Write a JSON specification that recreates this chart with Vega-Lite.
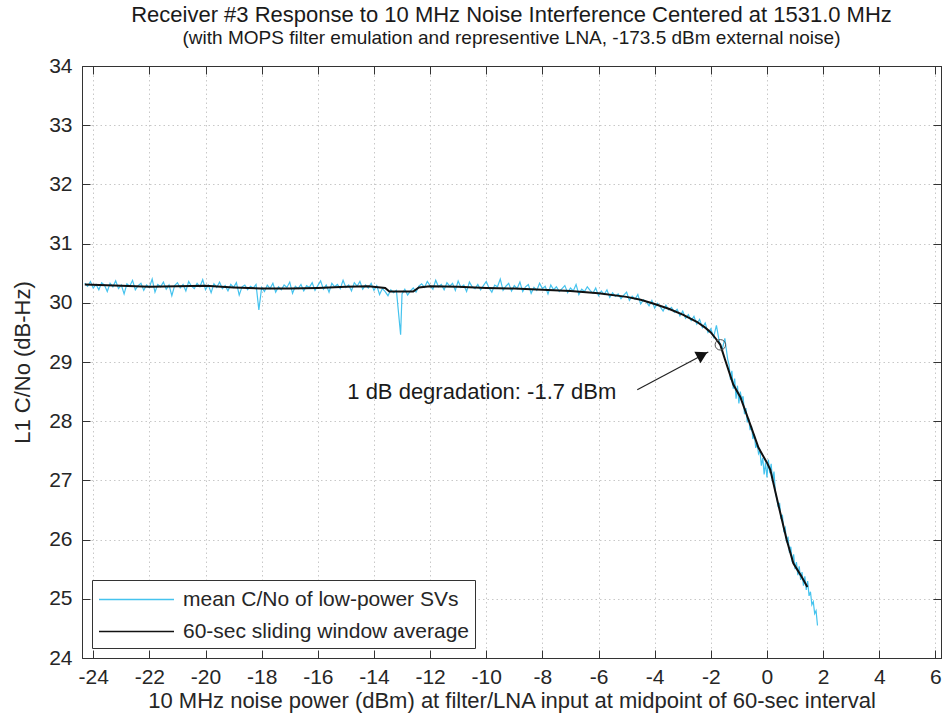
{
  "$schema": "https://vega.github.io/schema/vega-lite/v6.json",
  "width": 859,
  "height": 592,
  "autosize": {"type": "none"},
  "padding": {"left": 82, "top": 66, "right": 2, "bottom": 61},
  "background": "white",
  "title": {
    "text": "Receiver #3 Response to 10 MHz Noise Interference Centered at 1531.0 MHz",
    "subtitle": "(with MOPS filter emulation and representive LNA, -173.5 dBm external noise)",
    "anchor": "middle",
    "font": "Liberation Sans",
    "fontSize": 22,
    "fontWeight": "normal",
    "color": "#1a1a1a",
    "subtitleFont": "Liberation Sans",
    "subtitleFontSize": 19,
    "subtitleColor": "#1a1a1a",
    "subtitlePadding": 2,
    "offset": 6
  },
  "config": {
    "view": {"stroke": "#333333", "strokeWidth": 1},
    "axis": {
      "labelFont": "Liberation Sans",
      "labelFontSize": 21,
      "labelColor": "#262626",
      "titleFont": "Liberation Sans",
      "titleFontSize": 22,
      "titleFontWeight": "normal",
      "titleColor": "#262626",
      "domainColor": "#333333",
      "tickColor": "#333333",
      "gridColor": "#c8c8c8",
      "gridDash": [1.5, 3],
      "gridWidth": 1
    },
    "legend": {
      "labelFont": "Liberation Sans",
      "labelFontSize": 21,
      "labelColor": "#262626",
      "labelLimit": 0
    }
  },
  "datasets": {
    "blue": [
      {"x": -24.3, "y": 30.33}, {"x": -24.2, "y": 30.28}, {"x": -24.1, "y": 30.36}, {"x": -24.0, "y": 30.25}, {"x": -23.9, "y": 30.31}, {"x": -23.8, "y": 30.22}, {"x": -23.7, "y": 30.34}, {"x": -23.6, "y": 30.30}, {"x": -23.5, "y": 30.19}, {"x": -23.4, "y": 30.33},
      {"x": -23.3, "y": 30.27}, {"x": -23.2, "y": 30.37}, {"x": -23.1, "y": 30.24}, {"x": -23.0, "y": 30.30}, {"x": -22.9, "y": 30.15}, {"x": -22.8, "y": 30.32}, {"x": -22.7, "y": 30.28}, {"x": -22.6, "y": 30.38}, {"x": -22.5, "y": 30.22}, {"x": -22.4, "y": 30.29},
      {"x": -22.3, "y": 30.33}, {"x": -22.2, "y": 30.21}, {"x": -22.1, "y": 30.30}, {"x": -22.0, "y": 30.26}, {"x": -21.9, "y": 30.40}, {"x": -21.8, "y": 30.18}, {"x": -21.7, "y": 30.31}, {"x": -21.6, "y": 30.27}, {"x": -21.5, "y": 30.35}, {"x": -21.4, "y": 30.23},
      {"x": -21.3, "y": 30.30}, {"x": -21.2, "y": 30.12}, {"x": -21.1, "y": 30.29}, {"x": -21.0, "y": 30.34}, {"x": -20.9, "y": 30.25}, {"x": -20.8, "y": 30.31}, {"x": -20.7, "y": 30.20}, {"x": -20.6, "y": 30.36}, {"x": -20.5, "y": 30.28}, {"x": -20.4, "y": 30.24},
      {"x": -20.3, "y": 30.33}, {"x": -20.2, "y": 30.27}, {"x": -20.1, "y": 30.39}, {"x": -20.0, "y": 30.22}, {"x": -19.9, "y": 30.30}, {"x": -19.8, "y": 30.17}, {"x": -19.7, "y": 30.32}, {"x": -19.6, "y": 30.26}, {"x": -19.5, "y": 30.35}, {"x": -19.4, "y": 30.24},
      {"x": -19.3, "y": 30.29}, {"x": -19.2, "y": 30.20}, {"x": -19.1, "y": 30.31}, {"x": -19.0, "y": 30.26}, {"x": -18.9, "y": 30.34}, {"x": -18.8, "y": 30.13}, {"x": -18.7, "y": 30.27}, {"x": -18.6, "y": 30.30}, {"x": -18.5, "y": 30.22}, {"x": -18.4, "y": 30.28},
      {"x": -18.3, "y": 30.25}, {"x": -18.2, "y": 30.31}, {"x": -18.1, "y": 29.88}, {"x": -18.0, "y": 30.26}, {"x": -17.9, "y": 30.19}, {"x": -17.8, "y": 30.30}, {"x": -17.7, "y": 30.24}, {"x": -17.6, "y": 30.33}, {"x": -17.5, "y": 30.18}, {"x": -17.4, "y": 30.27},
      {"x": -17.3, "y": 30.22}, {"x": -17.2, "y": 30.30}, {"x": -17.1, "y": 30.26}, {"x": -17.0, "y": 30.35}, {"x": -16.9, "y": 30.16}, {"x": -16.8, "y": 30.28}, {"x": -16.7, "y": 30.24}, {"x": -16.6, "y": 30.31}, {"x": -16.5, "y": 30.20}, {"x": -16.4, "y": 30.29},
      {"x": -16.3, "y": 30.26}, {"x": -16.2, "y": 30.34}, {"x": -16.1, "y": 30.21}, {"x": -16.0, "y": 30.29}, {"x": -15.9, "y": 30.37}, {"x": -15.8, "y": 30.23}, {"x": -15.7, "y": 30.30}, {"x": -15.6, "y": 30.18}, {"x": -15.5, "y": 30.33}, {"x": -15.4, "y": 30.27},
      {"x": -15.3, "y": 30.31}, {"x": -15.2, "y": 30.24}, {"x": -15.1, "y": 30.38}, {"x": -15.0, "y": 30.26}, {"x": -14.9, "y": 30.30}, {"x": -14.8, "y": 30.20}, {"x": -14.7, "y": 30.34}, {"x": -14.6, "y": 30.28}, {"x": -14.5, "y": 30.36}, {"x": -14.4, "y": 30.23},
      {"x": -14.3, "y": 30.30}, {"x": -14.2, "y": 30.25}, {"x": -14.1, "y": 30.33}, {"x": -14.0, "y": 30.21}, {"x": -13.9, "y": 30.29}, {"x": -13.8, "y": 30.14}, {"x": -13.7, "y": 30.24}, {"x": -13.6, "y": 30.19}, {"x": -13.5, "y": 30.12}, {"x": -13.4, "y": 30.22},
      {"x": -13.3, "y": 30.17}, {"x": -13.2, "y": 30.21}, {"x": -13.05, "y": 29.46}, {"x": -13.0, "y": 30.15}, {"x": -12.9, "y": 30.23}, {"x": -12.8, "y": 30.13}, {"x": -12.7, "y": 30.20}, {"x": -12.6, "y": 30.25}, {"x": -12.5, "y": 30.18}, {"x": -12.4, "y": 30.28},
      {"x": -12.3, "y": 30.32}, {"x": -12.2, "y": 30.26}, {"x": -12.1, "y": 30.36}, {"x": -12.0, "y": 30.29}, {"x": -11.9, "y": 30.23}, {"x": -11.8, "y": 30.38}, {"x": -11.7, "y": 30.27}, {"x": -11.6, "y": 30.31}, {"x": -11.5, "y": 30.22}, {"x": -11.4, "y": 30.34},
      {"x": -11.3, "y": 30.28}, {"x": -11.2, "y": 30.33}, {"x": -11.1, "y": 30.21}, {"x": -11.0, "y": 30.37}, {"x": -10.9, "y": 30.26}, {"x": -10.8, "y": 30.30}, {"x": -10.7, "y": 30.19}, {"x": -10.6, "y": 30.35}, {"x": -10.5, "y": 30.27}, {"x": -10.4, "y": 30.24},
      {"x": -10.3, "y": 30.31}, {"x": -10.2, "y": 30.22}, {"x": -10.1, "y": 30.29}, {"x": -10.0, "y": 30.36}, {"x": -9.9, "y": 30.25}, {"x": -9.8, "y": 30.18}, {"x": -9.7, "y": 30.30}, {"x": -9.6, "y": 30.27}, {"x": -9.5, "y": 30.40}, {"x": -9.4, "y": 30.21},
      {"x": -9.3, "y": 30.28}, {"x": -9.2, "y": 30.33}, {"x": -9.1, "y": 30.20}, {"x": -9.0, "y": 30.29}, {"x": -8.9, "y": 30.24}, {"x": -8.8, "y": 30.35}, {"x": -8.7, "y": 30.19}, {"x": -8.6, "y": 30.27}, {"x": -8.5, "y": 30.31}, {"x": -8.4, "y": 30.16},
      {"x": -8.3, "y": 30.26}, {"x": -8.2, "y": 30.21}, {"x": -8.1, "y": 30.33}, {"x": -8.0, "y": 30.24}, {"x": -7.9, "y": 30.28}, {"x": -7.8, "y": 30.15}, {"x": -7.7, "y": 30.30}, {"x": -7.6, "y": 30.22}, {"x": -7.5, "y": 30.27}, {"x": -7.4, "y": 30.19},
      {"x": -7.3, "y": 30.24}, {"x": -7.2, "y": 30.29}, {"x": -7.1, "y": 30.17}, {"x": -7.0, "y": 30.25}, {"x": -6.9, "y": 30.20}, {"x": -6.8, "y": 30.31}, {"x": -6.7, "y": 30.14}, {"x": -6.6, "y": 30.23}, {"x": -6.5, "y": 30.19}, {"x": -6.4, "y": 30.27},
      {"x": -6.3, "y": 30.21}, {"x": -6.2, "y": 30.16}, {"x": -6.1, "y": 30.25}, {"x": -6.0, "y": 30.12}, {"x": -5.9, "y": 30.20}, {"x": -5.8, "y": 30.14}, {"x": -5.7, "y": 30.22}, {"x": -5.6, "y": 30.09}, {"x": -5.5, "y": 30.17}, {"x": -5.4, "y": 30.11},
      {"x": -5.3, "y": 30.15}, {"x": -5.2, "y": 30.07}, {"x": -5.1, "y": 30.13}, {"x": -5.0, "y": 30.18}, {"x": -4.9, "y": 30.04}, {"x": -4.8, "y": 30.11}, {"x": -4.7, "y": 30.06}, {"x": -4.6, "y": 30.14}, {"x": -4.5, "y": 29.98}, {"x": -4.4, "y": 30.05},
      {"x": -4.3, "y": 30.02}, {"x": -4.2, "y": 29.95}, {"x": -4.1, "y": 30.04}, {"x": -4.0, "y": 29.91}, {"x": -3.9, "y": 29.99}, {"x": -3.8, "y": 29.93}, {"x": -3.7, "y": 29.86}, {"x": -3.6, "y": 29.96}, {"x": -3.5, "y": 29.88}, {"x": -3.4, "y": 29.92},
      {"x": -3.3, "y": 29.84}, {"x": -3.2, "y": 29.89}, {"x": -3.1, "y": 29.78}, {"x": -3.0, "y": 29.86}, {"x": -2.9, "y": 29.74}, {"x": -2.8, "y": 29.80}, {"x": -2.7, "y": 29.70}, {"x": -2.6, "y": 29.77}, {"x": -2.5, "y": 29.64}, {"x": -2.4, "y": 29.72},
      {"x": -2.3, "y": 29.58}, {"x": -2.2, "y": 29.66}, {"x": -2.1, "y": 29.50}, {"x": -2.0, "y": 29.56}, {"x": -1.9, "y": 29.42}, {"x": -1.8, "y": 29.62}, {"x": -1.7, "y": 29.35}, {"x": -1.6, "y": 29.20}, {"x": -1.5, "y": 29.40}, {"x": -1.4, "y": 29.05},
      {"x": -1.35, "y": 28.95}, {"x": -1.3, "y": 28.70}, {"x": -1.25, "y": 28.85}, {"x": -1.2, "y": 28.55}, {"x": -1.15, "y": 28.72}, {"x": -1.1, "y": 28.38}, {"x": -1.05, "y": 28.60}, {"x": -1.0, "y": 28.30}, {"x": -0.95, "y": 28.50}, {"x": -0.9, "y": 28.36},
      {"x": -0.85, "y": 28.42}, {"x": -0.8, "y": 28.12}, {"x": -0.75, "y": 28.22}, {"x": -0.7, "y": 27.98}, {"x": -0.65, "y": 28.05}, {"x": -0.6, "y": 27.85}, {"x": -0.55, "y": 27.92}, {"x": -0.5, "y": 27.70}, {"x": -0.45, "y": 27.78}, {"x": -0.4, "y": 27.55},
      {"x": -0.35, "y": 27.62}, {"x": -0.3, "y": 27.45}, {"x": -0.25, "y": 27.50}, {"x": -0.2, "y": 27.25}, {"x": -0.15, "y": 27.38}, {"x": -0.1, "y": 27.10}, {"x": -0.05, "y": 27.30}, {"x": 0.0, "y": 27.05}, {"x": 0.05, "y": 27.35}, {"x": 0.1, "y": 27.12},
      {"x": 0.15, "y": 27.28}, {"x": 0.2, "y": 26.98}, {"x": 0.25, "y": 27.15}, {"x": 0.3, "y": 26.80}, {"x": 0.35, "y": 26.70}, {"x": 0.4, "y": 26.55}, {"x": 0.45, "y": 26.62}, {"x": 0.5, "y": 26.35}, {"x": 0.55, "y": 26.42}, {"x": 0.6, "y": 26.15},
      {"x": 0.65, "y": 26.20}, {"x": 0.7, "y": 25.95}, {"x": 0.75, "y": 26.05}, {"x": 0.8, "y": 25.78}, {"x": 0.85, "y": 25.88}, {"x": 0.9, "y": 25.62}, {"x": 0.95, "y": 25.75}, {"x": 1.0, "y": 25.50}, {"x": 1.05, "y": 25.62}, {"x": 1.1, "y": 25.40},
      {"x": 1.15, "y": 25.55}, {"x": 1.2, "y": 25.32}, {"x": 1.25, "y": 25.45}, {"x": 1.3, "y": 25.22}, {"x": 1.35, "y": 25.38}, {"x": 1.4, "y": 25.15}, {"x": 1.45, "y": 25.30}, {"x": 1.5, "y": 25.05}, {"x": 1.55, "y": 25.12}, {"x": 1.6, "y": 24.90},
      {"x": 1.65, "y": 24.95}, {"x": 1.7, "y": 24.75}, {"x": 1.75, "y": 24.80}, {"x": 1.8, "y": 24.55}
    ],
    "avg": [
      {"x": -24.3, "y": 30.31}, {"x": -23.0, "y": 30.29}, {"x": -22.0, "y": 30.27}, {"x": -21.0, "y": 30.28}, {"x": -20.0, "y": 30.29},
      {"x": -19.0, "y": 30.26}, {"x": -18.0, "y": 30.24}, {"x": -17.0, "y": 30.24}, {"x": -16.0, "y": 30.25}, {"x": -15.0, "y": 30.27},
      {"x": -14.2, "y": 30.28}, {"x": -13.6, "y": 30.25}, {"x": -13.45, "y": 30.19}, {"x": -12.6, "y": 30.19}, {"x": -12.4, "y": 30.26},
      {"x": -12.0, "y": 30.28}, {"x": -11.0, "y": 30.27}, {"x": -10.0, "y": 30.25}, {"x": -9.0, "y": 30.24}, {"x": -8.0, "y": 30.22},
      {"x": -7.0, "y": 30.2}, {"x": -6.0, "y": 30.16}, {"x": -5.0, "y": 30.1}, {"x": -4.5, "y": 30.05}, {"x": -4.0, "y": 29.98},
      {"x": -3.5, "y": 29.9}, {"x": -3.0, "y": 29.8}, {"x": -2.5, "y": 29.68}, {"x": -2.2, "y": 29.58}, {"x": -2.0, "y": 29.5},
      {"x": -1.8, "y": 29.38}, {"x": -1.66, "y": 29.29}, {"x": -1.5, "y": 29.05}, {"x": -1.2, "y": 28.62}, {"x": -0.95, "y": 28.41},
      {"x": -0.6, "y": 27.95}, {"x": -0.3, "y": 27.55}, {"x": 0.0, "y": 27.3}, {"x": 0.12, "y": 27.18}, {"x": 0.4, "y": 26.6},
      {"x": 0.7, "y": 26.0}, {"x": 0.94, "y": 25.6}, {"x": 1.2, "y": 25.4}, {"x": 1.44, "y": 25.2}
    ],
    "arrow": [{"x": -4.62, "y": 28.53, "x2": -2.09, "y2": 29.17}],
    "head": [{"x": -2.3, "y": 29.12}],
    "mark": [{"x": -1.66, "y": 29.29}],
    "note": [{"x": -14.95, "y": 28.49, "label": "1 dB degradation: -1.7 dBm"}]
  },
  "resolve": {"axis": {"x": "independent", "y": "independent"}},
  "layer": [
    {
      "data": {"name": "blue"},
      "transform": [{"calculate": "'mean C/No of low-power SVs'", "as": "s"}],
      "mark": {"type": "line", "strokeWidth": 1.2, "interpolate": "linear"},
      "encoding": {
        "x": {
          "field": "x", "type": "quantitative",
          "scale": {"domain": [-24.4, 6.2], "nice": false, "zero": false},
          "axis": {"orient": "bottom", "title": "10 MHz noise power (dBm) at filter/LNA input at midpoint of 60-sec interval", "values": [-24, -22, -20, -18, -16, -14, -12, -10, -8, -6, -4, -2, 0, 2, 4, 6], "labelExpr": "datum.value < 0 ? '-' + abs(datum.value) : '' + datum.value", "grid": true, "tickSize": -8, "labelPadding": 16, "titlePadding": 3, "labelFlush": false}
        },
        "y": {
          "field": "y", "type": "quantitative",
          "scale": {"domain": [24, 34], "nice": false, "zero": false},
          "axis": {"orient": "left", "title": "L1 C/No (dB-Hz)", "values": [24, 25, 26, 27, 28, 29, 30, 31, 32, 33, 34], "grid": true, "tickSize": -8, "labelPadding": 18, "titlePadding": 14, "labelFlush": false}
        },
        "color": {
          "field": "s", "type": "nominal",
          "scale": {"domain": ["mean C/No of low-power SVs", "60-sec sliding window average"], "range": ["#45c3ee", "#111111"]},
          "legend": {
            "title": null, "orient": "bottom-left", "offset": 10,
            "symbolType": "M-1,0H5", "symbolSize": 625, "symbolStrokeWidth": 1.6,
            "labelOffset": 58, "rowPadding": 8, "labelLimit": 0,
            "strokeColor": "#333333", "fillColor": "white", "padding": 6
          }
        }
      }
    },
    {
      "data": {"name": "avg"},
      "transform": [{"calculate": "'60-sec sliding window average'", "as": "s"}],
      "mark": {"type": "line", "strokeWidth": 2},
      "encoding": {
        "x": {"field": "x", "type": "quantitative", "axis": {"orient": "top", "labels": false, "title": null, "grid": false, "tickSize": -8, "values": [-24, -22, -20, -18, -16, -14, -12, -10, -8, -6, -4, -2, 0, 2, 4, 6]}},
        "y": {"field": "y", "type": "quantitative", "axis": {"orient": "right", "labels": false, "title": null, "grid": false, "tickSize": -8, "values": [24, 25, 26, 27, 28, 29, 30, 31, 32, 33, 34]}},
        "color": {"field": "s", "type": "nominal"}
      }
    },
    {
      "data": {"name": "arrow"},
      "mark": {"type": "rule", "color": "#222222", "strokeWidth": 1.2},
      "encoding": {
        "x": {"field": "x", "type": "quantitative", "axis": null},
        "y": {"field": "y", "type": "quantitative", "axis": null},
        "x2": {"field": "x2"},
        "y2": {"field": "y2"}
      }
    },
    {
      "data": {"name": "head"},
      "mark": {"type": "point", "shape": "triangle-right", "filled": true, "color": "#111111", "size": 170, "angle": 332, "opacity": 1},
      "encoding": {
        "x": {"field": "x", "type": "quantitative", "axis": null},
        "y": {"field": "y", "type": "quantitative", "axis": null}
      }
    },
    {
      "data": {"name": "mark"},
      "mark": {"type": "point", "shape": "circle", "filled": false, "color": "#555555", "size": 110, "strokeWidth": 1, "opacity": 1},
      "encoding": {
        "x": {"field": "x", "type": "quantitative", "axis": null},
        "y": {"field": "y", "type": "quantitative", "axis": null}
      }
    },
    {
      "data": {"name": "note"},
      "mark": {"type": "text", "align": "left", "baseline": "middle", "font": "Liberation Sans", "fontSize": 22, "color": "#1a1a1a"},
      "encoding": {
        "x": {"field": "x", "type": "quantitative", "axis": null},
        "y": {"field": "y", "type": "quantitative", "axis": null},
        "text": {"field": "label"}
      }
    }
  ]
}
